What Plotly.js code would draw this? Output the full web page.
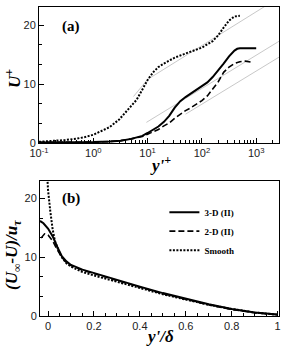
<!DOCTYPE html>
<html><head><meta charset="utf-8">
<script src="https://cdn.plot.ly/plotly-3.0.1.min.js"></script>
<style>html,body{margin:0;padding:0;background:#fff}#plot{width:281px;height:348px}</style>
</head><body><div id="plot"></div>
<script>
// ---- Panel (a): U+ vs y'+ ----
const yp3D = [0.1,0.3,1,2,3.2,5,8,10,12.6,15.8,20,25,31.6,40,50,63,79,100,126,158,200,251,316,398,447,500,631,1000];
const U3D  = [0.1,0.1,0.15,0.25,0.4,0.7,1.2,1.7,2.2,2.8,3.6,4.6,6.0,7.1,7.8,8.4,9.0,9.6,10.3,11.2,12.3,13.5,14.7,15.7,16.0,16.1,16.1,16.1];
const yp2D = [0.1,0.3,1,2,3.2,5,8,10,12.6,15.8,20,25,31.6,40,50,63,79,100,126,158,200,251,316,398,500,631,870];
const U2D  = [0.1,0.1,0.15,0.25,0.4,0.7,1.1,1.5,1.9,2.3,2.9,3.4,4.2,4.9,5.5,6.0,6.6,7.2,8.0,9.1,10.4,12.0,12.9,13.5,13.8,13.9,13.7];
const ypSm = [0.1,0.2,0.3,0.5,0.7,1,1.5,2,3,4,5,6.3,8,10,12.6,15.8,20,31.6,50,79,100,158,200,251,316,398,500];
const USm  = [0.2,0.35,0.5,0.75,1.0,1.4,2.1,2.7,4.0,5.2,6.3,7.35,9.0,10.7,12.0,12.9,13.5,14.5,15.2,15.8,16.2,17.3,18.3,19.6,20.8,21.5,21.6];
// thin grey reference lines (end points)
const refSmX = [10, 1500], refSmU = [10.8, 23.3];
const refViscX = [5.5, 9.6], refViscU = [7.9, 10.6];
const ref3DX = [9.5, 3000], ref3DU = [3.5, 17.6];
const ref2DX = [50, 3000], ref2DU = [4.9, 14.9];
// ---- Panel (b): defect law ----
const xd3D = [-0.035,-0.02,0,0.02,0.04,0.06,0.08,0.1,0.15,0.2,0.3,0.4,0.5,0.6,0.7,0.8,0.9,1.0];
const D3D  = [16.2,15.8,14.9,13.6,11.8,10.2,9.3,8.7,7.9,7.3,6.1,5.0,3.9,2.9,2.0,1.2,0.6,0.25];
const xd2D = [-0.03,-0.015,0,0.02,0.04,0.06,0.08,0.1,0.15,0.2,0.3,0.4,0.5,0.6,0.7,0.8,0.9,1.0];
const D2D  = [13.3,14.0,13.8,12.8,11.3,10.0,9.1,8.6,7.8,7.2,6.0,4.9,3.8,2.8,1.9,1.1,0.55,0.2];
const xdSm = [-0.012,-0.005,0,0.01,0.02,0.03,0.045,0.06,0.08,0.1,0.15,0.2,0.3,0.4,0.5,0.6,0.7,0.8,0.9,1.0];
const DSm  = [30,24,21.5,17.8,14.8,12.8,11.2,10.0,9.0,8.4,7.5,6.9,5.8,4.7,3.7,2.8,1.9,1.2,0.6,0.2];
const seriesNames = ['3-D (II)','2-D (II)','Smooth'];
const logTickVals = [0.1,1,10,100,1000];
const logTickText = ['10<sup>-1</sup>','10<sup>0</sup>','10<sup>1</sup>','10<sup>2</sup>','10<sup>3</sup>'];

const grey = {color:'#b0b0b0', width:0.7};
const sSolid = {color:'#000', width:2, dash:'solid'};
const sDash = {color:'#000', width:1.6, dash:'6px,3px'};
const sDot = {color:'#000', width:2, dash:'2px,1.5px'};

const traces = [
  {x:refSmX,y:refSmU,mode:'lines',line:grey,xaxis:'x',yaxis:'y',showlegend:false,hoverinfo:'skip'},
  {x:refViscX,y:refViscU,mode:'lines',line:grey,xaxis:'x',yaxis:'y',showlegend:false,hoverinfo:'skip'},
  {x:ref3DX,y:ref3DU,mode:'lines',line:grey,xaxis:'x',yaxis:'y',showlegend:false,hoverinfo:'skip'},
  {x:ref2DX,y:ref2DU,mode:'lines',line:grey,xaxis:'x',yaxis:'y',showlegend:false,hoverinfo:'skip'},
  {x:yp3D,y:U3D,mode:'lines',line:sSolid,xaxis:'x',yaxis:'y',showlegend:false},
  {x:yp2D,y:U2D,mode:'lines',line:sDash,xaxis:'x',yaxis:'y',showlegend:false},
  {x:ypSm,y:USm,mode:'lines',line:sDot,xaxis:'x',yaxis:'y',showlegend:false},
  {x:xd3D,y:D3D,mode:'lines',line:sSolid,xaxis:'x2',yaxis:'y2',name:seriesNames[0]},
  {x:xd2D,y:D2D,mode:'lines',line:sDash,xaxis:'x2',yaxis:'y2',name:seriesNames[1]},
  {x:xdSm,y:DSm,mode:'lines',line:sDot,xaxis:'x2',yaxis:'y2',name:seriesNames[2]}
];

const tickFont = {family:'Liberation Sans, Arial', size:11, color:'#222'};
const axBase = {showline:true, linecolor:'#000', linewidth:1, mirror:true, ticks:'inside',
  ticklen:5, tickcolor:'#000', tickfont:tickFont, showgrid:false, zeroline:false};
const titleFont = {family:'Liberation Serif, Times New Roman', size:17, color:'#000', weight:'bold', style:'italic'};

const layout = {
  width:281, height:348, margin:{l:0,r:0,t:0,b:0}, paper_bgcolor:'#fff', plot_bgcolor:'#fff',
  xaxis: Object.assign({}, axBase, {type:'log', range:[-1,3.42], domain:[0.1388,0.9929], anchor:'y',
     tickvals:logTickVals, ticktext:logTickText,
     minor:{ticks:'inside', ticklen:3, tickcolor:'#000', dtick:'D1'}}),
  yaxis: Object.assign({}, axBase, {range:[0,23.1], domain:[0.5891,0.9799], anchor:'x',
     tickvals:[0,10,20], minor:{ticks:'inside', ticklen:3, tickcolor:'#000', dtick:10/3}}),
  xaxis2: Object.assign({}, axBase, {range:[-0.035,1.006], domain:[0.1423,0.9929], anchor:'y2',
     tickvals:[0,0.2,0.4,0.6,0.8,1], ticktext:['0','0.2','0.4','0.6','0.8','1'],
     minor:{ticks:'inside', ticklen:3, tickcolor:'#000', dtick:0.05}}),
  yaxis2: Object.assign({}, axBase, {range:[0,23], domain:[0.092,0.4799], anchor:'x2',
     tickvals:[0,10,20], minor:{ticks:'inside', ticklen:3, tickcolor:'#000', dtick:10/3}}),
  showlegend:true,
  legend:{x:0.585, y:0.432, xanchor:'left', yanchor:'top', bgcolor:'rgba(0,0,0,0)',
    font:{family:'Liberation Serif, Times New Roman', size:9, color:'#000', weight:'bold'},
    tracegroupgap:0},
  annotations:[
    {text:'(a)', xref:'paper', yref:'paper', x:60/281, y:1-27/348, xanchor:'left', yanchor:'middle', showarrow:false,
      font:{family:'Liberation Serif, Times New Roman', size:15, color:'#000', weight:'bold'}},
    {text:'(b)', xref:'paper', yref:'paper', x:60/281, y:1-198/348, xanchor:'left', yanchor:'middle', showarrow:false,
      font:{family:'Liberation Serif, Times New Roman', size:15, color:'#000', weight:'bold'}},
    {text:'<i>y\'</i><sup>+</sup>', xref:'paper', yref:'paper', x:160/281, y:1-164/348, xanchor:'center', yanchor:'middle', showarrow:false, font:titleFont},
    {text:'<i>U</i><sup>+</sup>', xref:'paper', yref:'paper', x:13/281, y:1-78/348, xanchor:'center', yanchor:'middle', showarrow:false, textangle:-90, font:titleFont},
    {text:'<i>y\'</i>/δ', xref:'paper', yref:'paper', x:160/281, y:1-336/348, xanchor:'center', yanchor:'middle', showarrow:false, font:titleFont},
    {text:'(<i>U</i><sub>∞</sub>-<i>U</i>)/<i>u</i><sub>τ</sub>', xref:'paper', yref:'paper', x:13/281, y:1-255/348, xanchor:'center', yanchor:'middle', showarrow:false, textangle:-90, font:titleFont}
  ]
};
Plotly.newPlot('plot', traces, layout, {staticPlot:true, displayModeBar:false});
</script></body></html>
